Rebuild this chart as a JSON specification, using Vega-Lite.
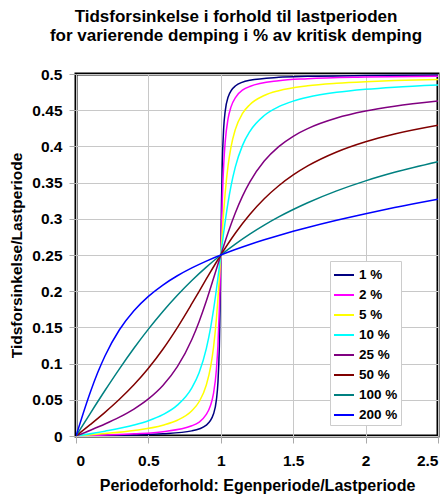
{
"$schema": "https://vega.github.io/schema/vega-lite/v6.json",
"width": 362, "height": 362,
"autosize": "none",
"padding": {"left": 76, "top": 74, "right": 10, "bottom": 61},
"background": "white",
"title": {"text": ["Tidsforsinkelse i forhold til lastperioden", "for varierende demping i % av kritisk demping"], "font": "Liberation Sans", "fontSize": 17, "fontWeight": "bold", "color": "black", "anchor": "middle", "dx": -21, "offset": 22, "lineHeight": 19},
"config": {
 "view": {"stroke": "black", "strokeWidth": 3},
 "axis": {"domain": false, "grid": true, "gridColor": "#c8c8c8", "gridWidth": 1, "tickColor": "#aaaaaa", "tickSize": 7, "labelFont": "Liberation Sans", "labelFontSize": 15.5, "labelFontWeight": "bold", "labelColor": "black", "titleFont": "Liberation Sans", "titleFontSize": 15.5, "titleFontWeight": "bold", "titleColor": "black"},
 "legend": {"labelFont": "Liberation Sans", "labelFontSize": 13.5, "labelFontWeight": "bold", "labelColor": "black"}
},
"data": {"values": [
{"s":"1 %","x":0,"y":0},{"s":"1 %","x":0.2,"y":0.00066},{"s":"1 %","x":0.4,"y":0.00152},{"s":"1 %","x":0.6,"y":0.00298},{"s":"1 %","x":0.8,"y":0.00707},{"s":"1 %","x":0.9,"y":0.01503},{"s":"1 %","x":0.95,"y":0.03063},{"s":"1 %","x":0.97,"y":0.05048},{"s":"1 %","x":0.98,"y":0.07315},{"s":"1 %","x":0.99,"y":0.1246},{"s":"1 %","x":0.995,"y":0.17605},{"s":"1 %","x":1,"y":0.25},{"s":"1 %","x":1.005,"y":0.32363},{"s":"1 %","x":1.01,"y":0.3746},{"s":"1 %","x":1.02,"y":0.42558},{"s":"1 %","x":1.03,"y":0.44809},{"s":"1 %","x":1.05,"y":0.46784},{"s":"1 %","x":1.1,"y":0.48339},{"s":"1 %","x":1.2,"y":0.49133},{"s":"1 %","x":1.4,"y":0.49536},{"s":"1 %","x":1.6,"y":0.49674},{"s":"1 %","x":2,"y":0.49788},{"s":"1 %","x":2.5,"y":0.49848},
{"s":"2 %","x":0,"y":0},{"s":"2 %","x":0.2,"y":0.00133},{"s":"2 %","x":0.4,"y":0.00303},{"s":"2 %","x":0.6,"y":0.00597},{"s":"2 %","x":0.8,"y":0.01411},{"s":"2 %","x":0.9,"y":0.0298},{"s":"2 %","x":0.95,"y":0.05915},{"s":"2 %","x":0.97,"y":0.09246},{"s":"2 %","x":0.98,"y":0.12419},{"s":"2 %","x":0.99,"y":0.17589},{"s":"2 %","x":0.995,"y":0.21092},{"s":"2 %","x":1,"y":0.25},{"s":"2 %","x":1.005,"y":0.2889},{"s":"2 %","x":1.01,"y":0.32347},{"s":"2 %","x":1.02,"y":0.37422},{"s":"2 %","x":1.03,"y":0.40533},{"s":"2 %","x":1.05,"y":0.4381},{"s":"2 %","x":1.07,"y":0.45429},{"s":"2 %","x":1.1,"y":0.46713},{"s":"2 %","x":1.2,"y":0.48271},{"s":"2 %","x":1.4,"y":0.49073},{"s":"2 %","x":1.6,"y":0.49347},{"s":"2 %","x":2,"y":0.49576},{"s":"2 %","x":2.5,"y":0.49697},
{"s":"5 %","x":0,"y":0},{"s":"5 %","x":0.2,"y":0.00332},{"s":"5 %","x":0.4,"y":0.00757},{"s":"5 %","x":0.6,"y":0.01488},{"s":"5 %","x":0.7,"y":0.02171},{"s":"5 %","x":0.8,"y":0.0348},{"s":"5 %","x":0.85,"y":0.04731},{"s":"5 %","x":0.9,"y":0.07041},{"s":"5 %","x":0.93,"y":0.09595},{"s":"5 %","x":0.95,"y":0.12293},{"s":"5 %","x":0.97,"y":0.16291},{"s":"5 %","x":0.98,"y":0.18888},{"s":"5 %","x":0.99,"y":0.21843},{"s":"5 %","x":1,"y":0.25},{"s":"5 %","x":1.01,"y":0.28127},{"s":"5 %","x":1.02,"y":0.31002},{"s":"5 %","x":1.03,"y":0.33498},{"s":"5 %","x":1.05,"y":0.37308},{"s":"5 %","x":1.07,"y":0.39877},{"s":"5 %","x":1.1,"y":0.4232},{"s":"5 %","x":1.15,"y":0.44548},{"s":"5 %","x":1.2,"y":0.45762},{"s":"5 %","x":1.3,"y":0.47036},{"s":"5 %","x":1.4,"y":0.47695},{"s":"5 %","x":1.6,"y":0.48373},{"s":"5 %","x":1.8,"y":0.48724},{"s":"5 %","x":2,"y":0.48941},{"s":"5 %","x":2.2,"y":0.49089},{"s":"5 %","x":2.5,"y":0.49243},
{"s":"10 %","x":0,"y":0},{"s":"10 %","x":0.2,"y":0.00663},{"s":"10 %","x":0.4,"y":0.01511},{"s":"10 %","x":0.5,"y":0.0211},{"s":"10 %","x":0.6,"y":0.0295},{"s":"10 %","x":0.7,"y":0.04264},{"s":"10 %","x":0.8,"y":0.06656},{"s":"10 %","x":0.85,"y":0.08748},{"s":"10 %","x":0.9,"y":0.1207},{"s":"10 %","x":0.93,"y":0.15002},{"s":"10 %","x":0.95,"y":0.17454},{"s":"10 %","x":0.98,"y":0.21827},{"s":"10 %","x":1,"y":0.25},{"s":"10 %","x":1.02,"y":0.28112},{"s":"10 %","x":1.05,"y":0.32227},{"s":"10 %","x":1.07,"y":0.34473},{"s":"10 %","x":1.1,"y":0.3713},{"s":"10 %","x":1.15,"y":0.4014},{"s":"10 %","x":1.2,"y":0.42053},{"s":"10 %","x":1.3,"y":0.44265},{"s":"10 %","x":1.4,"y":0.45483},{"s":"10 %","x":1.5,"y":0.46251},{"s":"10 %","x":1.6,"y":0.4678},{"s":"10 %","x":1.8,"y":0.47464},{"s":"10 %","x":2,"y":0.4789},{"s":"10 %","x":2.2,"y":0.48184},{"s":"10 %","x":2.5,"y":0.48489},
{"s":"25 %","x":0,"y":0},{"s":"25 %","x":0.1,"y":0.00803},{"s":"25 %","x":0.2,"y":0.01652},{"s":"25 %","x":0.3,"y":0.026},{"s":"25 %","x":0.4,"y":0.0372},{"s":"25 %","x":0.5,"y":0.05121},{"s":"25 %","x":0.6,"y":0.06976},{"s":"25 %","x":0.7,"y":0.09573},{"s":"25 %","x":0.8,"y":0.13337},{"s":"25 %","x":0.85,"y":0.15794},{"s":"25 %","x":0.9,"y":0.18641},{"s":"25 %","x":0.95,"y":0.21778},{"s":"25 %","x":1,"y":0.25},{"s":"25 %","x":1.05,"y":0.28069},{"s":"25 %","x":1.1,"y":0.30805},{"s":"25 %","x":1.15,"y":0.33135},{"s":"25 %","x":1.2,"y":0.35071},{"s":"25 %","x":1.3,"y":0.37975},{"s":"25 %","x":1.4,"y":0.39973},{"s":"25 %","x":1.5,"y":0.41399},{"s":"25 %","x":1.6,"y":0.42458},{"s":"25 %","x":1.8,"y":0.4392},{"s":"25 %","x":2,"y":0.44879},{"s":"25 %","x":2.2,"y":0.4556},{"s":"25 %","x":2.5,"y":0.4628},
{"s":"50 %","x":0,"y":0},{"s":"50 %","x":0.1,"y":0.01602},{"s":"50 %","x":0.2,"y":0.03269},{"s":"50 %","x":0.3,"y":0.05068},{"s":"50 %","x":0.4,"y":0.07073},{"s":"50 %","x":0.5,"y":0.09358},{"s":"50 %","x":0.6,"y":0.11987},{"s":"50 %","x":0.7,"y":0.14979},{"s":"50 %","x":0.8,"y":0.1827},{"s":"50 %","x":0.9,"y":0.21689},{"s":"50 %","x":1,"y":0.25},{"s":"50 %","x":1.1,"y":0.28002},{"s":"50 %","x":1.2,"y":0.30593},{"s":"50 %","x":1.3,"y":0.32766},{"s":"50 %","x":1.4,"y":0.34566},{"s":"50 %","x":1.5,"y":0.36057},{"s":"50 %","x":1.6,"y":0.37299},{"s":"50 %","x":1.8,"y":0.39227},{"s":"50 %","x":2,"y":0.40642},{"s":"50 %","x":2.2,"y":0.4172},{"s":"50 %","x":2.5,"y":0.42927},
{"s":"100 %","x":0,"y":0},{"s":"100 %","x":0.1,"y":0.03173},{"s":"100 %","x":0.2,"y":0.06283},{"s":"100 %","x":0.3,"y":0.09277},{"s":"100 %","x":0.4,"y":0.12112},{"s":"100 %","x":0.5,"y":0.14758},{"s":"100 %","x":0.6,"y":0.17202},{"s":"100 %","x":0.7,"y":0.1944},{"s":"100 %","x":0.8,"y":0.21478},{"s":"100 %","x":0.9,"y":0.23326},{"s":"100 %","x":1,"y":0.25},{"s":"100 %","x":1.1,"y":0.26514},{"s":"100 %","x":1.2,"y":0.27886},{"s":"100 %","x":1.3,"y":0.29128},{"s":"100 %","x":1.4,"y":0.30257},{"s":"100 %","x":1.5,"y":0.31283},{"s":"100 %","x":1.6,"y":0.32219},{"s":"100 %","x":1.8,"y":0.33859},{"s":"100 %","x":2,"y":0.35242},{"s":"100 %","x":2.2,"y":0.3642},{"s":"100 %","x":2.5,"y":0.37888},
{"s":"200 %","x":0,"y":0},{"s":"200 %","x":0.05,"y":0.03149},{"s":"200 %","x":0.1,"y":0.06111},{"s":"200 %","x":0.15,"y":0.08762},{"s":"200 %","x":0.2,"y":0.11057},{"s":"200 %","x":0.3,"y":0.14674},{"s":"200 %","x":0.4,"y":0.17306},{"s":"200 %","x":0.5,"y":0.1929},{"s":"200 %","x":0.6,"y":0.20853},{"s":"200 %","x":0.7,"y":0.22133},{"s":"200 %","x":0.8,"y":0.23217},{"s":"200 %","x":0.9,"y":0.24161},{"s":"200 %","x":1,"y":0.25},{"s":"200 %","x":1.1,"y":0.25759},{"s":"200 %","x":1.2,"y":0.26455},{"s":"200 %","x":1.3,"y":0.271},{"s":"200 %","x":1.4,"y":0.27702},{"s":"200 %","x":1.5,"y":0.28269},{"s":"200 %","x":1.6,"y":0.28805},{"s":"200 %","x":1.8,"y":0.298},{"s":"200 %","x":2,"y":0.3071},{"s":"200 %","x":2.2,"y":0.31548},{"s":"200 %","x":2.5,"y":0.32694}
]},
"mark": {"type": "line", "strokeWidth": 1.5, "interpolate": "monotone", "clip": true},
"encoding": {
 "x": {"field": "x", "type": "quantitative", "scale": {"domain": [0, 2.5], "nice": false}, "axis": {"values": [0, 0.5, 1, 1.5, 2, 2.5], "format": "~g", "labelPadding": 10, "title": "Periodeforhold: Egenperiode/Lastperiode", "titleFontSize": 16, "titlePadding": 9}},
 "y": {"field": "y", "type": "quantitative", "scale": {"domain": [0, 0.5], "nice": false}, "axis": {"values": [0, 0.05, 0.1, 0.15, 0.2, 0.25, 0.3, 0.35, 0.4, 0.45, 0.5], "format": "~g", "labelPadding": 7, "title": "Tidsforsinkelse/Lastperiode", "titlePadding": 7}},
 "color": {"field": "s", "type": "nominal", "scale": {"domain": ["1 %", "2 %", "5 %", "10 %", "25 %", "50 %", "100 %", "200 %"], "range": ["#000080", "#FF00FF", "#FFFF00", "#00FFFF", "#800080", "#800000", "#008080", "#0000FF"]}, "legend": {"title": null, "orient": "none", "legendX": 254, "legendY": 187, "symbolType": "stroke", "symbolSize": 400, "symbolStrokeWidth": 2, "strokeColor": "#cccccc", "fillColor": "white", "padding": 3, "rowPadding": 2, "labelOffset": 4}}
}
}
